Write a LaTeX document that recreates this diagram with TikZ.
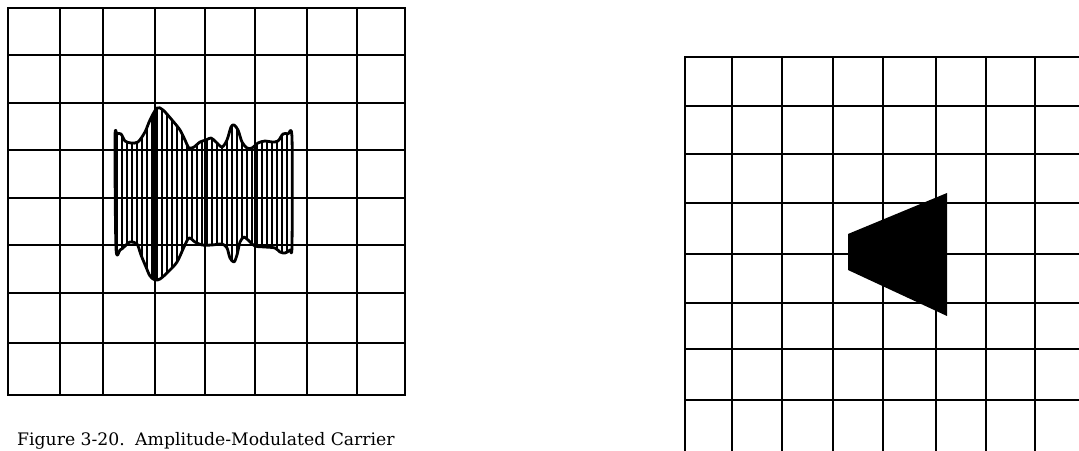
\documentclass[tikz,border=0pt]{standalone}
\usepackage{fontspec}
\setmainfont{DejaVu Serif}
\begin{document}
\begin{tikzpicture}[x=1bp,y=-1bp,
  gridline/.style={line width=2.2bp,line cap=rect},
  envline/.style={line width=2.8bp,line join=round},
  carrier/.style={line width=1.5bp},
  captiontext/.style={anchor=base west,inner sep=0pt,font=\fontsize{17.3}{20}\selectfont}]
\useasboundingbox (0,0) rectangle (1079,451);
% ---------- left grid ----------
\foreach \gx in {8,60,103,155,205,255,307,357,405}
  \draw[gridline] (\gx,8) -- (\gx,395);
\foreach \gy in {8,55,103,150,198,245,293,343,395}
  \draw[gridline] (8,\gy) -- (405,\gy);
% ---------- AM envelope ----------
\def\envpath{plot[smooth cycle,tension=0.5] coordinates{
 (115,138) (117,134) (121,134) (125,141) (131,143) (138,142) (145,132) (150,120) (157,108) (163,110) (172,120) (180,130) (185,140) (189,148) (194,147) (200,142) (206,140) (211,138) (216,142) (222,147) (227,140) (231,127) (234,125) (238,130) (242,142) (247,148) (252,148) (258,143) (265,141) (272,142) (278,141) (283,134) (288,134) (292,138)
 (292,245) (290,250) (285,253) (280,252) (275,248) (265,247) (255,246) (248,240) (244,237) (240,242) (237,255) (234,262) (230,258) (227,248) (222,244) (212,245) (202,245) (195,242) (189,238) (184,247) (177,262) (168,272) (160,279) (155,280) (150,276) (146,267) (141,255) (137,244) (130,242) (124,247) (120,250) (116,248)}}
\begin{scope}
  \clip \envpath;
  \foreach \cx in {117,122,...,292}
    \draw[carrier] (\cx,100) -- (\cx,290);
  \foreach \cx in {153.5,156.5}
    \draw[line width=1.5bp] (\cx,100) -- (\cx,290);
  \foreach \cx in {202.5,207.5}
    \draw[line width=0.6bp] (\cx,100) -- (\cx,290);
\end{scope}
\draw[envline] \envpath;
% ---------- caption ----------
\node[captiontext] (cap) at (17,445) {Figure 3-20.\hspace{0.6em}Amplitude-Modulated Carrier};
% ---------- right grid ----------
\foreach \gx in {685,732,782,833,883,936,986,1035}
  \draw[gridline] (\gx,57) -- (\gx,455);
\foreach \gy in {57,106,154,203,254,303,349,400}
  \draw[gridline] (685,\gy) -- (1085,\gy);
% ---------- trapezoid ----------
\fill[black,line join=round] (848,234) -- (947,193) -- (947,316) -- (848,270) -- cycle;
\end{tikzpicture}
\end{document}
